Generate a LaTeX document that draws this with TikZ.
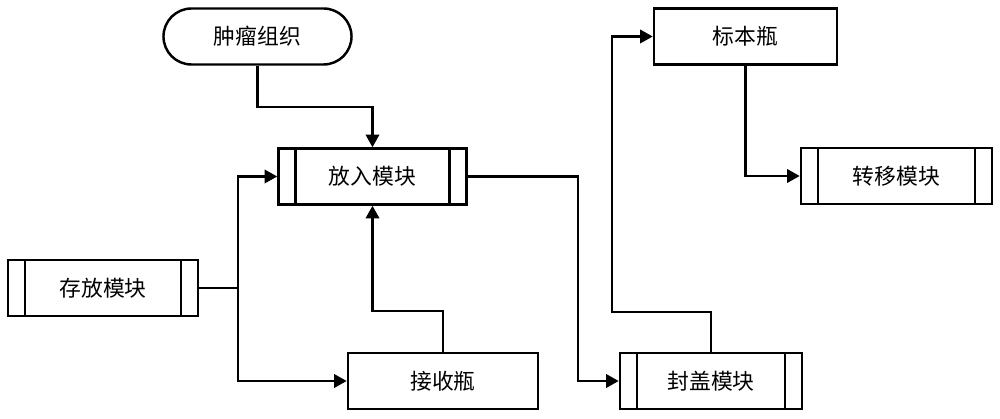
\documentclass[tikz,border=0pt]{standalone}
\usepackage{fontspec}
\setmainfont{Noto Sans CJK SC}
\usetikzlibrary{arrows.meta,shapes.misc,calc}
\tikzset{
  lw/.style={line width=1.75pt},
  box/.style={lw,draw,rectangle,minimum height=1.4cm,inner sep=0pt,font=\fontsize{15.5pt}{17pt}\selectfont},
  subproc/.style={box,path picture={
     \draw[lw] ([xshift=0.425cm]path picture bounding box.north west) -- ([xshift=0.425cm]path picture bounding box.south west);
     \draw[lw] ([xshift=-0.425cm]path picture bounding box.north east) -- ([xshift=-0.425cm]path picture bounding box.south east);}},
  term/.style={box,rounded rectangle},
  arr/.style={lw,-{Triangle[length=9pt,width=9.5pt]}},
  conn/.style={lw}
}
\begin{document}
\begin{tikzpicture}[x=0.025cm,y=-0.025cm]
\useasboundingbox (0,0) rectangle (1000,419);
\node[term,minimum width=4.7cm] (tumor) at (257.5,36.5) {肿瘤组织};
\node[subproc,minimum width=4.7cm] (fangru) at (372.5,176.5) {放入模块};
\node[subproc,minimum width=4.75cm] (cunfang) at (103,288) {存放模块};
\node[box,minimum width=4.75cm] (jieshou) at (443,381) {接收瓶};
\node[box,minimum width=4.575cm] (biaoben) at (745.5,36.5) {标本瓶};
\node[subproc,minimum width=4.775cm] (zhuanyi) at (896.5,176) {转移模块};
\node[subproc,minimum width=4.55cm] (fenggai) at (711,381) {封盖模块};

\coordinate (t1) at (257.5,107);
\coordinate (j) at (238,288);
\coordinate (c2) at (372.5,311);
\coordinate (c3) at (578,176.5);
\coordinate (c4) at (612,312);

\draw[arr] (tumor.south) -- (t1) -| (fangru.north);
\draw[conn] (cunfang.east) -- (j);
\draw[arr] (j) |- (fangru.west);
\draw[arr] (j) |- (jieshou.west);
\draw[arr] (jieshou.north) |- (c2) -- (fangru.south);
\draw[arr] (fangru.east) -- (c3) |- (fenggai.west);
\draw[arr] (fenggai.north) |- (c4) |- (biaoben.west);
\draw[arr] (biaoben.south) |- (zhuanyi.west);
\end{tikzpicture}
\end{document}
